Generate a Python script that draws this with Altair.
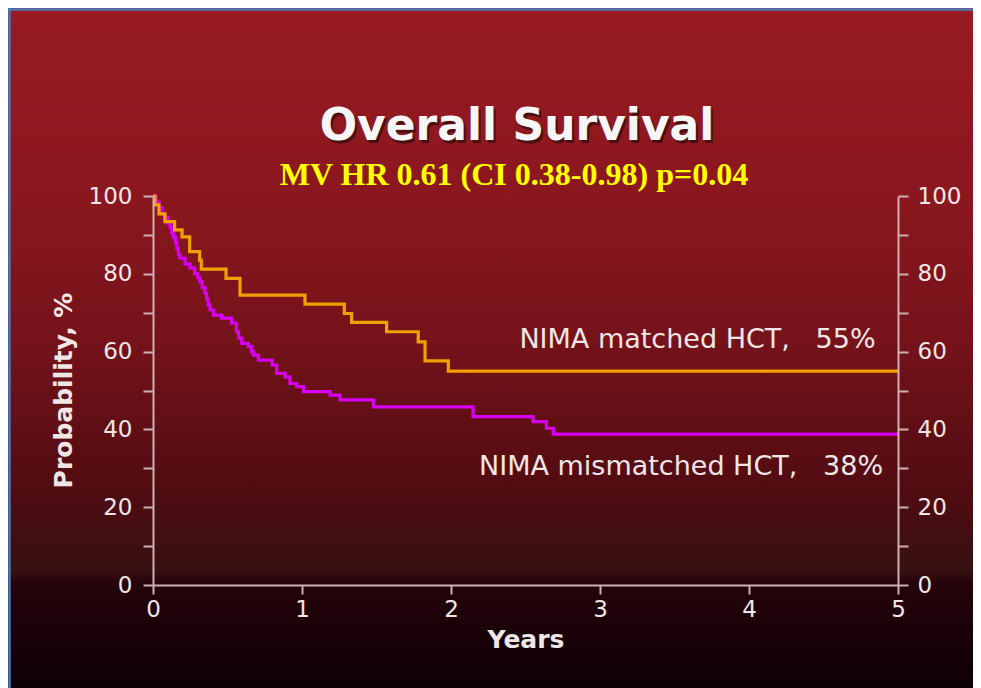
import altair as alt
import pandas as pd

# ---------------- data ----------------
matched_years = [0, 0.013, 0.04, 0.08, 0.145, 0.195, 0.246, 0.313, 0.324, 0.49,
                 0.584, 1.02, 1.284, 1.333, 1.568, 1.78, 1.826, 1.982, 5.0]
matched_surv = [100, 97.7, 95.4, 93.4, 91.3, 89.5, 85.7, 83.5, 81.2, 78.8,
                74.5, 72.2, 69.8, 67.5, 65.1, 62.5, 57.6, 55.0, 55.0]

mismatched_years = [0, 0.02, 0.04, 0.06, 0.08, 0.10, 0.114, 0.125, 0.136, 0.15,
                    0.16, 0.17, 0.18, 0.215, 0.248, 0.28, 0.30, 0.315, 0.33, 0.349,
                    0.36, 0.37, 0.383, 0.405, 0.46, 0.527, 0.56, 0.575, 0.595, 0.64,
                    0.66, 0.673, 0.707, 0.80, 0.83, 0.886, 0.919, 0.964, 1.01, 1.188,
                    1.255, 1.479, 2.148, 2.55, 2.64, 2.687, 5.0]
mismatched_surv = [100, 98.5, 97.0, 95.5, 94.5, 93.0, 92.0, 90.5, 89.5, 88.0,
                   86.5, 85.0, 84.0, 82.5, 81.5, 80.0, 79.0, 78.0, 76.5, 75.0,
                   73.5, 72.0, 70.7, 69.4, 68.6, 67.3, 65.1, 63.5, 62.1, 61.3,
                   60.0, 59.1, 57.8, 56.5, 54.4, 53.5, 51.8, 51.0, 49.7, 48.8,
                   47.6, 45.8, 43.3, 42.0, 40.3, 38.8, 38.8]

group_names = ["NIMA matched HCT", "NIMA mismatched HCT"]
group_colors = ["#f0a000", "#d800f2"]

curve_labels = ["NIMA matched HCT,\u00a0\u00a0\u00a055%", "NIMA mismatched HCT,\u00a0\u00a0\u00a038%"]
label_years = [4.85, 4.90]
label_pct = [63.0, 30.3]

title_text = ["Overall Survival"]
subtitle_text = ["MV HR 0.61 (CI 0.38-0.98) p=0.04"]
y_title = "Probability, %"
x_title = "Years"
x_ticks = [0, 0.5, 1, 1.5, 2, 2.5, 3, 3.5, 4, 4.5, 5]
y_ticks = [0, 10, 20, 30, 40, 50, 60, 70, 80, 90, 100]

# ---------------- layout ----------------
W, H = 745, 389
PL, PT, PR, PB = 145, 188, 75, 103

AXIS_COL = "#cfb0b2"
LABEL_COL = "#efe6e6"
FONT = "DejaVu Sans"

df = pd.DataFrame({
    "year": matched_years + mismatched_years,
    "surv": matched_surv + mismatched_surv,
    "group": [group_names[0]] * len(matched_years) + [group_names[1]] * len(mismatched_years),
})
lab_df = pd.DataFrame({"label": curve_labels, "year": label_years, "pct": label_pct})

xscale = alt.Scale(domain=[0, 5], nice=False, zero=False)
yscale = alt.Scale(domain=[0, 100], nice=False)
cscale = alt.Scale(domain=group_names, range=group_colors)

x_axis = alt.Axis(orient="bottom", values=x_ticks, format="d",
                  labelExpr="datum.value % 1 === 0 ? datum.label : ''",
                  grid=False, domainColor=AXIS_COL, tickColor=AXIS_COL, domainWidth=2,
                  tickWidth=2, tickSize=9, labelFont=FONT, labelFontSize=23,
                  labelColor=LABEL_COL, labelPadding=4, labelFlush=False, zindex=2,
                  title=x_title, titleFont=FONT, titleFontSize=25, titleFontWeight="bold",
                  titleColor=LABEL_COL, titleX=W / 2, titleY=54, titleAlign="center",
                  titleBaseline="middle")

y_left = alt.Axis(orient="left", values=y_ticks,
                  labelExpr="datum.value % 20 === 0 ? datum.label : ''",
                  grid=False, domainColor=AXIS_COL, tickColor=AXIS_COL, domainWidth=2,
                  tickWidth=2, tickSize=10, labelFont=FONT, labelFontSize=23,
                  labelColor=LABEL_COL, labelPadding=11, zindex=2,
                  title=y_title, titleFont=FONT, titleFontSize=25, titleFontWeight="bold",
                  titleColor=LABEL_COL, titleX=-90, titleY=194, titleAngle=270,
                  titleAlign="center", titleBaseline="middle")

y_right = alt.Axis(orient="right", values=y_ticks,
                   labelExpr="datum.value % 20 === 0 ? datum.label : ''",
                   grid=False, domainColor=AXIS_COL, tickColor=AXIS_COL, domainWidth=2,
                   tickWidth=2, tickSize=10, labelFont=FONT, labelFontSize=23,
                   labelColor=LABEL_COL, labelPadding=9, zindex=2, title=None)

gradient = {
    "gradient": "linear", "x1": 0, "x2": 0, "y1": 0, "y2": 1,
    "stops": [
        {"offset": 0.0, "color": "#981a22"},
        {"offset": 0.28, "color": "#8b171e"},
        {"offset": 0.5, "color": "#74121a"},
        {"offset": 0.7, "color": "#520c12"},
        {"offset": 0.83, "color": "#361010"},
        {"offset": 0.845, "color": "#26030b"},
        {"offset": 1.0, "color": "#0c0003"},
    ],
}

one = pd.DataFrame({"k": [0]})

bg = alt.Chart(one).mark_rect(fill=gradient).encode(
    x=alt.value(-PL), x2=alt.value(W + PR), y=alt.value(-PT), y2=alt.value(H + PB))

border_top = alt.Chart(one).mark_rule(color="#4a78b5", strokeWidth=2.5).encode(
    x=alt.value(-PL), x2=alt.value(W + PR), y=alt.value(-PT + 1.5))
border_left = alt.Chart(one).mark_rule(color="#4a78b5", strokeWidth=2.5).encode(
    x=alt.value(-PL + 1.5), y=alt.value(-PT), y2=alt.value(H + PB))

x_enc = alt.X("year:Q", scale=xscale, axis=x_axis)

purple = alt.Chart(df).transform_filter(
    alt.datum.group == group_names[1]
).mark_line(interpolate="step-after", strokeWidth=3.2).encode(
    x=x_enc,
    y=alt.Y("surv:Q", scale=yscale, axis=y_left),
    color=alt.Color("group:N", scale=cscale, legend=None),
)

orange = alt.Chart(df).transform_filter(
    alt.datum.group == group_names[0]
).mark_line(interpolate="step-after", strokeWidth=3.2).encode(
    x=x_enc,
    y=alt.Y("surv:Q", scale=yscale, axis=y_right),
    color=alt.Color("group:N", scale=cscale, legend=None),
)

labels = alt.Chart(lab_df).mark_text(
    align="right", baseline="middle", font=FONT, fontSize=27, color=LABEL_COL
).encode(
    x=alt.X("year:Q", scale=xscale, axis=x_axis),
    y=alt.Y("pct:Q", scale=yscale, axis=None),
    text="label:N",
)

title_df = pd.DataFrame({"t": title_text})
sub_df = pd.DataFrame({"t": subtitle_text})

title_shadow = alt.Chart(title_df).mark_text(
    font=FONT, fontSize=44, fontWeight="bold", color="#1e0808", opacity=0.6,
    align="center", baseline="alphabetic"
).encode(x=alt.value(364 + 2), y=alt.value(-56 + 3), text="t:N")

title = alt.Chart(title_df).mark_text(
    font=FONT, fontSize=44, fontWeight="bold", color="#f6f6f6",
    align="center", baseline="alphabetic"
).encode(x=alt.value(364), y=alt.value(-56), text="t:N")

subtitle = alt.Chart(sub_df).mark_text(
    font="Liberation Serif", fontSize=32, fontWeight="bold", color="#ffff00",
    align="center", baseline="alphabetic"
).encode(x=alt.value(361), y=alt.value(-11), text="t:N")

chart = alt.layer(
    bg, border_top, border_left, purple, orange, labels, title_shadow, title, subtitle
).resolve_axis(y="independent").properties(
    width=W, height=H,
    autosize=alt.AutoSizeParams(type="none"),
    padding={"left": PL, "top": PT, "right": PR, "bottom": PB},
    background="#0c0003",
).configure_view(stroke="transparent")

chart.save("out.html", embed_options={"renderer": "svg", "actions": False})
